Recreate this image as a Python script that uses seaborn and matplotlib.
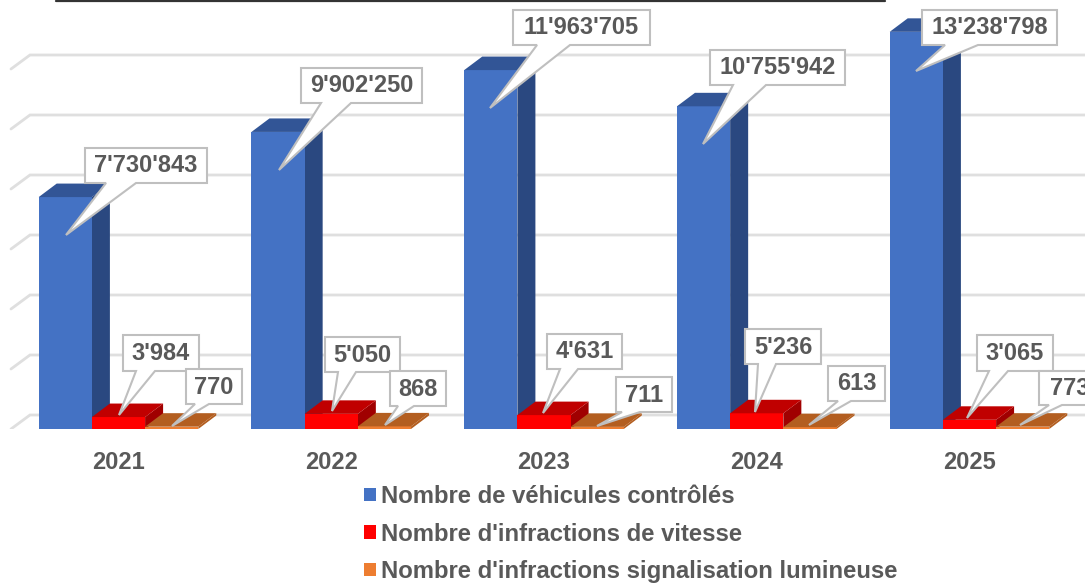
import numpy as np
import pandas as pd
import matplotlib
matplotlib.use("Agg")
import matplotlib.pyplot as plt
import seaborn as sns
from matplotlib.patches import Patch, Polygon

years = ["2021", "2022", "2023", "2024", "2025"]
series_names = ["Nombre de véhicules contrôlés",
                "Nombre d'infractions de vitesse",
                "Nombre d'infractions signalisation lumineuse"]
vehicules = [7730843, 9902250, 11963705, 10755942, 13238798]
vitesse = [3984, 5050, 4631, 5236, 3065]
feux = [770, 868, 711, 613, 773]

vehicules_labels = ["7'730'843", "9'902'250", "11'963'705", "10'755'942", "13'238'798"]
vitesse_labels = ["3'984", "5'050", "4'631", "5'236", "3'065"]
feux_labels = ["770", "868", "711", "613", "773"]

# colours: front, top, side
face_colors = {
    series_names[0]: ("#4472C4", "#325596", "#2A4880"),
    series_names[1]: ("#FF0000", "#C00000", "#A00000"),
    series_names[2]: ("#ED7D31", "#B35E20", "#B35E20"),
}

# callouts in picture pixels: box left, top, right, bottom, tail base left, right, tip x, y
callout_boxes = [
    (85, 148, 207, 183, 106, 136, 66, 235),
    (301, 68, 422, 103, 321, 351, 279, 170),
    (513, 10, 650, 45, 537, 570, 490, 108),
    (710, 50, 845, 85, 733, 766, 703, 144),
    (922, 10, 1057, 45, 945, 978, 916, 71),
    (123, 335, 199, 371, 136, 155, 119, 415),
    (325, 337, 400, 372, 338, 356, 332, 411),
    (547, 334, 622, 369, 560, 578, 543, 413),
    (745, 329, 821, 364, 758, 776, 755, 412),
    (977, 335, 1053, 371, 989, 1008, 967, 418),
    (186, 369, 242, 404, 195, 209, 172, 426),
    (390, 371, 446, 406, 398, 414, 385, 425),
    (616, 377, 672, 412, 622, 640, 597, 426),
    (828, 366, 885, 401, 838, 851, 809, 425),
    (1039, 371, 1100, 405, 1049, 1062, 1020, 425),
]

W, H = 1085, 583
BASE_Y = 429
CAT_PX = 212.75
DEPTH_X, DEPTH_Y = 18, 13.5
TEXT = "#595959"
GRID = "#DFDFDF"
FONT_SIZE = 17

sns.set_theme(style="white")
plt.rcParams["font.family"] = ["Liberation Sans", "DejaVu Sans"]

fig = plt.figure(figsize=(W / 100, H / 100), dpi=100)
rect = [0, 1 - BASE_Y / H, 1, BASE_Y / H]
ax = fig.add_axes(rect)
ax2 = ax.twinx()
ax2.set_position(rect)

df = pd.DataFrame({
    "year": years * 3,
    "serie": np.repeat(series_names, len(years)),
    "value": vehicules + vitesse + feux,
})
df_main = df.copy()
df_main.loc[df_main["serie"] != series_names[0], "value"] = np.nan
df_second = df.copy()
df_second.loc[df_second["serie"] == series_names[0], "value"] = np.nan

palette = {k: v[0] for k, v in face_colors.items()}
for a, d in [(ax, df_main), (ax2, df_second)]:
    sns.barplot(data=d, x="year", y="value", hue="serie", hue_order=series_names,
                palette=palette, width=0.75, gap=0, saturation=1, legend=False,
                errorbar=None, ax=a, zorder=3, linewidth=0)

x_left = -118.5 / CAT_PX
x_right = x_left + W / CAT_PX
y_max = BASE_Y / 30 * 1e6
y2_max = BASE_Y / 3 * 1e3
ax.set_xlim(x_left, x_right)
ax.set_ylim(0, y_max)
ax2.set_ylim(0, y2_max)
dx = DEPTH_X / CAT_PX


def add_faces(a, ymax):
    # fake 3D: top and side faces taken from each bar drawn by seaborn
    dy = DEPTH_Y * ymax / BASE_Y
    for cont, name in zip(a.containers, series_names):
        for bar in cont:
            h = bar.get_height()
            if not np.isfinite(h) or h == 0:
                continue
            x0, x1 = bar.get_x(), bar.get_x() + bar.get_width()
            _, top, side = face_colors[name]
            a.add_patch(Polygon([(x1, 0), (x1 + dx, dy), (x1 + dx, h + dy), (x1, h)],
                                fc=side, ec="none", zorder=2.5))
            a.add_patch(Polygon([(x0, h), (x0 + dx, h + dy), (x1 + dx, h + dy), (x1, h)],
                                fc=top, ec="none", zorder=4))


add_faces(ax, y_max)
add_faces(ax2, y2_max)

# gridlines on the back wall with stubs on the floor side
grid_ticks = np.arange(0, 14e6, 2e6)
wall_x = x_left + 30 / CAT_PX
stub_x = x_left + 11 / CAT_PX
wall_dy = 14 * y_max / BASE_Y
for t in grid_ticks:
    ax.plot([stub_x, wall_x, x_right], [t, t + wall_dy, t + wall_dy], color=GRID, lw=2,
            zorder=1, solid_joinstyle="miter")

ax.set_xlabel("")
ax.set_ylabel("")
ax2.set_ylabel("")
ax.set_yticks([])
ax2.set_yticks([])
ax.set_xticks(range(len(years)))
ax.set_xticklabels(years, fontsize=FONT_SIZE, fontweight="bold", color=TEXT)
ax.tick_params(axis="x", length=0, pad=15.5)
sns.despine(ax=ax, left=True, bottom=True)
sns.despine(ax=ax2, left=True, bottom=True, right=True)
ax.set_facecolor("none")
ax2.set_facecolor("none")

# overlay in picture pixels for callouts and the top rule
over = fig.add_axes([0, 0, 1, 1], zorder=10)
over.set_xlim(0, W)
over.set_ylim(H, 0)
over.axis("off")
over.plot([56, 885], [0.5, 0.5], color="#333333", lw=1.6)

all_labels = vehicules_labels + vitesse_labels + feux_labels
for lab, (l, t, r, b, bl, br, tx, ty) in zip(all_labels, callout_boxes):
    over.add_patch(Polygon([(l, t), (r, t), (r, b), (br, b), (tx, ty), (bl, b), (l, b)],
                           fc="white", ec="#BFBFBF", lw=1.5, joinstyle="miter"))
    over.text((l + r) / 2 if r < W else l + 57 / 2 + 2, (t + b) / 2 + 0.5, lab, ha="center", va="center",
              fontsize=FONT_SIZE, fontweight="bold", color=TEXT)

handles = [Patch(fc=face_colors[n][0], ec="none") for n in series_names]
leg = fig.legend(handles, series_names, loc="upper left", bbox_to_anchor=(364 / W, 1 - 485 / H),
                 frameon=False, prop={"size": 17.2, "weight": "bold"}, labelspacing=0.61,
                 handlelength=0.5, handleheight=0.5, handletextpad=0.22,
                 borderpad=0, borderaxespad=0)
for txt in leg.get_texts():
    txt.set_color(TEXT)

fig.savefig("out.png", dpi=100)
